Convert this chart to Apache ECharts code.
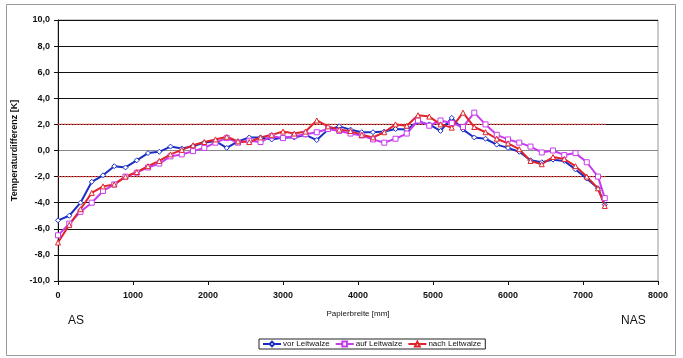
<!DOCTYPE html>
<html>
<head>
<meta charset="utf-8">
<script src="https://cdn.jsdelivr.net/npm/echarts@6/dist/echarts.min.js"></script>
<style>
  html, body { margin: 0; padding: 0; background: #fff; }
  #chart { width: 683px; height: 358px; }
</style>
</head>
<body>
<div id="chart"></div>
<script>
// Papierbreite [mm] positions of the measuring points
const positions = [
  0, 150, 300, 450, 600, 750, 900, 1050, 1200, 1350,
  1500, 1650, 1800, 1950, 2100, 2250, 2400, 2550, 2700, 2850,
  3000, 3150, 3300, 3450, 3600, 3750, 3900, 4050, 4200, 4350,
  4500, 4650, 4800, 4950, 5100, 5250, 5400, 5550, 5700, 5850,
  6000, 6150, 6300, 6450, 6600, 6750, 6900, 7050, 7200, 7290
]
const vorLeitwalze = [
  -5.35, -5.0, -4.0, -2.4, -1.9, -1.2, -1.3, -0.75, -0.2, -0.1,
  0.3, 0.15, 0.33, 0.6, 0.72, 0.2, 0.7, 1.0, 1.0, 0.85,
  1.0, 1.0, 1.2, 0.8, 1.6, 1.85, 1.6, 1.4, 1.4, 1.45,
  1.65, 1.6, 2.2, 2.0, 1.5, 2.5, 1.6, 1.0, 0.9, 0.45,
  0.2, -0.1, -0.75, -0.9, -0.7, -0.8, -1.45, -2.15, -2.9, -4.15
]
const aufLeitwalze = [
  -6.5, -5.6, -4.7, -4.0, -3.1, -2.6, -2.0, -1.7, -1.3, -1.0,
  -0.45, -0.3, -0.05, 0.2, 0.6, 0.95, 0.6, 0.75, 0.65, 1.1,
  0.95, 1.1, 1.25, 1.4, 1.65, 1.5, 1.3, 1.15, 0.85, 0.6,
  0.9, 1.3, 2.3, 1.9, 2.3, 2.1, 1.8, 2.9, 2.0, 1.2,
  0.85, 0.6, 0.3, -0.15, 0.0, -0.35, -0.2, -0.9, -2.0, -3.65
]
const nachLeitwalze = [
  -7.05, -5.7, -4.5, -3.25, -2.75, -2.6, -2.0, -1.65, -1.2, -0.8,
  -0.3, 0.05, 0.4, 0.65, 0.85, 1.05, 0.7, 0.65, 1.0, 1.2,
  1.45, 1.3, 1.45, 2.3, 1.85, 1.6, 1.5, 1.2, 1.0, 1.4,
  2.0, 1.9, 2.7, 2.6, 2.0, 1.75, 2.9, 1.8, 1.4, 0.9,
  0.55, 0.1, -0.8, -1.05, -0.5, -0.65, -1.2, -2.0, -2.9, -4.25
]
// tolerance band
const limitUpper = 2
const limitLower = -2
const limitRange = [0, 7300]

const seriesNames = ['vor Leitwalze', 'auf Leitwalze', 'nach Leitwalze']

const pairs = (ys) => positions.map((x, i) => [x, ys[i]])
const limitLine = (y) => limitRange.map((x) => [x, y])

const chart = echarts.init(document.getElementById('chart'))

const dataSeries = (name, values, color, symbol, size) => ({
  name: name,
  type: 'line',
  data: pairs(values),
  symbol: symbol,
  symbolSize: size,
  showAllSymbol: true,
  lineStyle: { color: color, width: 2 },
  itemStyle: { color: '#fff', borderColor: color, borderWidth: 1 },
  z: 3
})

const limitSeries = (y) => ({
  type: 'line',
  data: limitLine(y),
  symbol: 'none',
  silent: true,
  lineStyle: { color: '#e03c3c', width: 1.2, type: [2, 1] },
  z: 2
})

const gridColors = ['#111', '#111', '#111', '#111', '#111', '#888', '#111', '#111', '#111', '#111', '#111']

const option = {
  animation: false,
  textStyle: { fontFamily: 'Liberation Sans, Arial, sans-serif' },
  grid: {
    left: 58,
    right: 25,
    top: 20,
    bottom: 77,
    show: true,
    borderColor: '#999',
    borderWidth: 1
  },
  legend: {
    data: seriesNames,
    left: 259,
    top: 339,
    padding: [1, 4, 1, 3],
    itemGap: 5,
    itemWidth: 18,
    itemHeight: 6,
    borderColor: '#222',
    borderWidth: 1,
    borderRadius: 0,
    textStyle: { fontSize: 8, color: '#111', padding: [0, 0, 0, -3] }
  },
  xAxis: {
    type: 'value',
    min: 0,
    max: 8000,
    interval: 1000,
    name: 'Papierbreite [mm]',
    nameLocation: 'middle',
    nameGap: 29,
    nameTextStyle: { fontSize: 8, color: '#111' },
    axisLine: { onZero: false, lineStyle: { color: '#111', width: 1 } },
    axisTick: { show: true, length: 4, lineStyle: { color: '#111' } },
    axisLabel: {
      fontSize: 9,
      fontWeight: 'bold',
      color: '#111',
      margin: 10,
      formatter: (v) => String(v)
    },
    splitLine: { show: false }
  },
  yAxis: {
    type: 'value',
    min: -10,
    max: 10,
    interval: 2,
    name: 'Temperaturdifferenz [K]',
    nameLocation: 'middle',
    nameGap: 33,
    nameTextStyle: { fontSize: 9, fontWeight: 'bold', color: '#111' },
    axisLine: { show: true, lineStyle: { color: '#111', width: 1 } },
    axisTick: { show: true, length: 4, lineStyle: { color: '#111' } },
    axisLabel: {
      fontSize: 9,
      fontWeight: 'bold',
      color: '#111',
      margin: 8,
      formatter: (v) => v.toFixed(1).replace('.', ',')
    },
    splitLine: { show: true, lineStyle: { color: gridColors, width: 1 } }
  },
  graphic: [
    {
      type: 'rect',
      shape: { x: 6.5, y: 4.5, width: 669, height: 351 },
      style: { fill: 'none', stroke: '#999', lineWidth: 1 },
      silent: true
    },
    {
      type: 'text',
      left: 68,
      top: 315,
      style: { text: 'AS', fontSize: 12, fill: '#111', fontFamily: 'Liberation Sans, Arial, sans-serif' }
    },
    {
      type: 'text',
      left: 621,
      top: 315,
      style: { text: 'NAS', fontSize: 12, fill: '#111', fontFamily: 'Liberation Sans, Arial, sans-serif' }
    }
  ],
  series: [
    limitSeries(limitUpper),
    limitSeries(limitLower),
    dataSeries(seriesNames[0], vorLeitwalze, '#1c2fc4', 'diamond', 5),
    dataSeries(seriesNames[1], aufLeitwalze, '#c83cf0', 'rect', 5),
    dataSeries(seriesNames[2], nachLeitwalze, '#e0242c', 'triangle', 5)
  ]
}

chart.setOption(option)
</script>
</body>
</html>
